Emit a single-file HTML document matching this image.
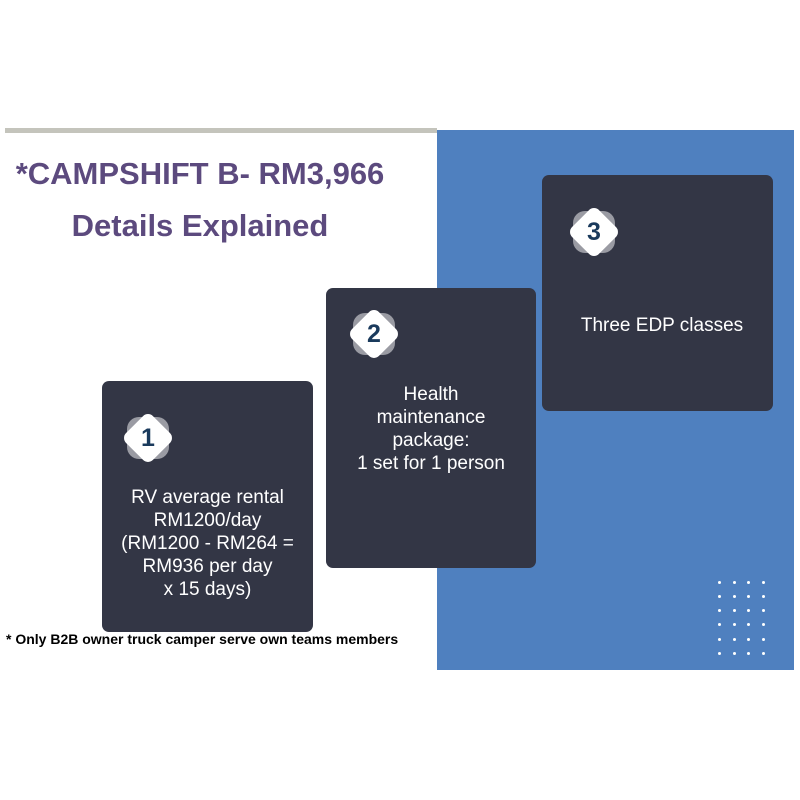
<!DOCTYPE html>
<html><head><style>
body{margin:0;width:800px;height:800px;background:#fff;position:relative;overflow:hidden;font-family:"Liberation Sans",sans-serif}
.a{position:absolute}
.card{position:absolute;background:#333645;border-radius:7px;color:#fff;text-align:center;font-size:19px;line-height:23px}
.ic{position:absolute;width:58px;height:58px}
.ic .g{position:absolute;left:8px;top:8px;width:42px;height:42px;background:#9a9ba3;border-radius:12px}
.ic .w{position:absolute;left:10px;top:10px;width:38px;height:38px;background:#fff;border-radius:7px;transform:rotate(45deg)}
.ic .n{position:absolute;left:0;top:0;width:58px;line-height:58px;text-align:center;color:#1a3a5c;font-weight:bold;font-size:25px}
.dot{position:absolute;width:3px;height:3px;background:#fff;border-radius:50%}
</style></head><body>
<div class="a" style="left:5px;top:128px;width:432px;height:5px;background:#c4c4bc"></div>
<div class="a" style="left:437px;top:130px;width:357px;height:540px;background:#4f80bf"></div>
<div class="a" style="left:0;top:148px;width:400px;text-align:center;color:#5c4a7e;font-weight:bold;font-size:31px;line-height:52px">*CAMPSHIFT B- RM3,966<br>Details Explained</div>
<div class="card" style="left:102px;top:381px;width:211px;height:251px">
<div class="ic" style="left:17px;top:28px"><div class="g"></div><div class="w"></div><div class="n">1</div></div>
<div class="a" style="left:0;top:105px;width:211px">RV average rental<br>RM1200/day<br>(RM1200 - RM264 =<br>RM936 per day<br>x 15 days)</div></div>
<div class="card" style="left:326px;top:288px;width:210px;height:280px">
<div class="ic" style="left:19px;top:17px"><div class="g"></div><div class="w"></div><div class="n">2</div></div>
<div class="a" style="left:0;top:95px;width:210px">Health<br>maintenance<br>package:<br>1 set for 1 person</div></div>
<div class="card" style="left:542px;top:175px;width:231px;height:236px">
<div class="ic" style="left:23px;top:28px"><div class="g"></div><div class="w"></div><div class="n">3</div></div>
<div class="a" style="left:0;top:139px;width:240px">Three EDP classes</div></div>
<div class="a" style="left:6px;top:631px;font-size:14px;font-weight:bold;color:#000">* Only B2B owner truck camper serve own teams members</div>
<div id="dots"></div>
<script>
var h='';[718,733,747,762].forEach(function(x){[581,595,609,623,638,652].forEach(function(y){h+='<div class="dot" style="left:'+x+'px;top:'+y+'px"></div>'})});document.getElementById('dots').innerHTML=h;
</script>
</body></html>
